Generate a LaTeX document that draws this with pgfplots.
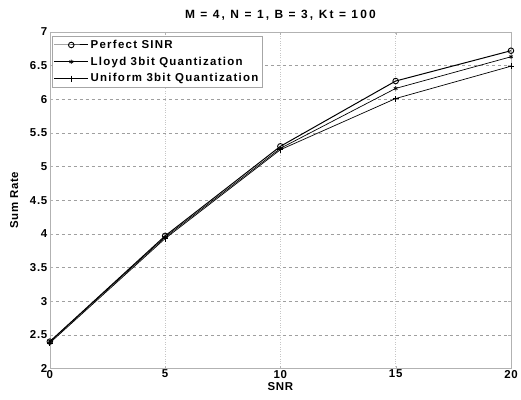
\documentclass[border=0pt]{standalone}
\usepackage{pgfplots}
\pgfplotsset{compat=1.18}
\usepackage{fontspec}
\setmainfont[LetterSpace=6]{Liberation Sans}
\begin{document}
\begin{tikzpicture}[font=\bfseries]
\begin{axis}[
  scale only axis,
  width=463pt, height=338pt,
  xmin=0, xmax=20, ymin=2, ymax=7,
  xtick={0,5,10,15,20},
  ytick={2,2.5,3,3.5,4,4.5,5,5.5,6,6.5,7},
  yticklabels={2,2.5,3,3.5,4,4.5,5,5.5,6,6.5,7},
  xticklabels={0,5,10,15,20},
  tick label style={font=\bfseries\fontsize{11.5}{13}\selectfont},
  label style={font=\bfseries\fontsize{11.5}{13}\selectfont},
  title style={font=\bfseries\fontsize{12}{13}\selectfont\addfontfeature{LetterSpace=18}, yshift=2pt},
  title={M = 4, N = 1, B = 3, Kt = 100},
  xlabel={SNR}, ylabel={Sum Rate},
  xlabel style={yshift=3pt},
  ylabel style={yshift=5pt},
  xticklabel style={yshift=2pt},
  yticklabel style={xshift=1pt},
  grid=major,
  ymajorgrids, xmajorgrids,
  y grid style={dashed, gray!75, line width=0.5pt},
  x grid style={dotted, gray!45, line width=0.4pt},
  axis line style={gray!60, line width=0.5pt},
  tick style={gray!60},
  tick align=inside,
  major tick length=3pt,
  legend cell align=left,
  legend style={font=\bfseries\fontsize{11.5}{13}\selectfont\addfontfeature{LetterSpace=11}, draw=gray!70, inner sep=2pt, row sep=3pt, at={(0.004,0.988)}, anchor=north west},
  legend image code/.code={\draw[mark repeat=2,mark phase=2] plot coordinates {(0pt,0pt) (17pt,0pt) (34pt,0pt)};},
]
\addplot[black, line width=1pt, mark=o, mark size=2.8pt, mark options={line width=0.9pt}] coordinates {(0,2.40) (5,3.97) (10,5.30) (15,6.27) (20,6.72)};
\addlegendentry{Perfect SINR}
\addplot[black, line width=0.7pt, mark=asterisk, mark size=2.2pt] coordinates {(0,2.40) (5,3.95) (10,5.27) (15,6.16) (20,6.63)};
\addlegendentry{Lloyd 3bit Quantization}
\addplot[black, line width=0.7pt, mark=+, mark size=3pt] coordinates {(0,2.38) (5,3.93) (10,5.25) (15,6.01) (20,6.49)};
\addlegendentry{Uniform 3bit Quantization}
\end{axis}
\path (current axis.south west) ++(-50pt,-31pt) coordinate (bl);
\path (current axis.north east) ++(8pt,32pt) coordinate (tr);
\path[use as bounding box] (bl) rectangle (tr);
\end{tikzpicture}
\end{document}
